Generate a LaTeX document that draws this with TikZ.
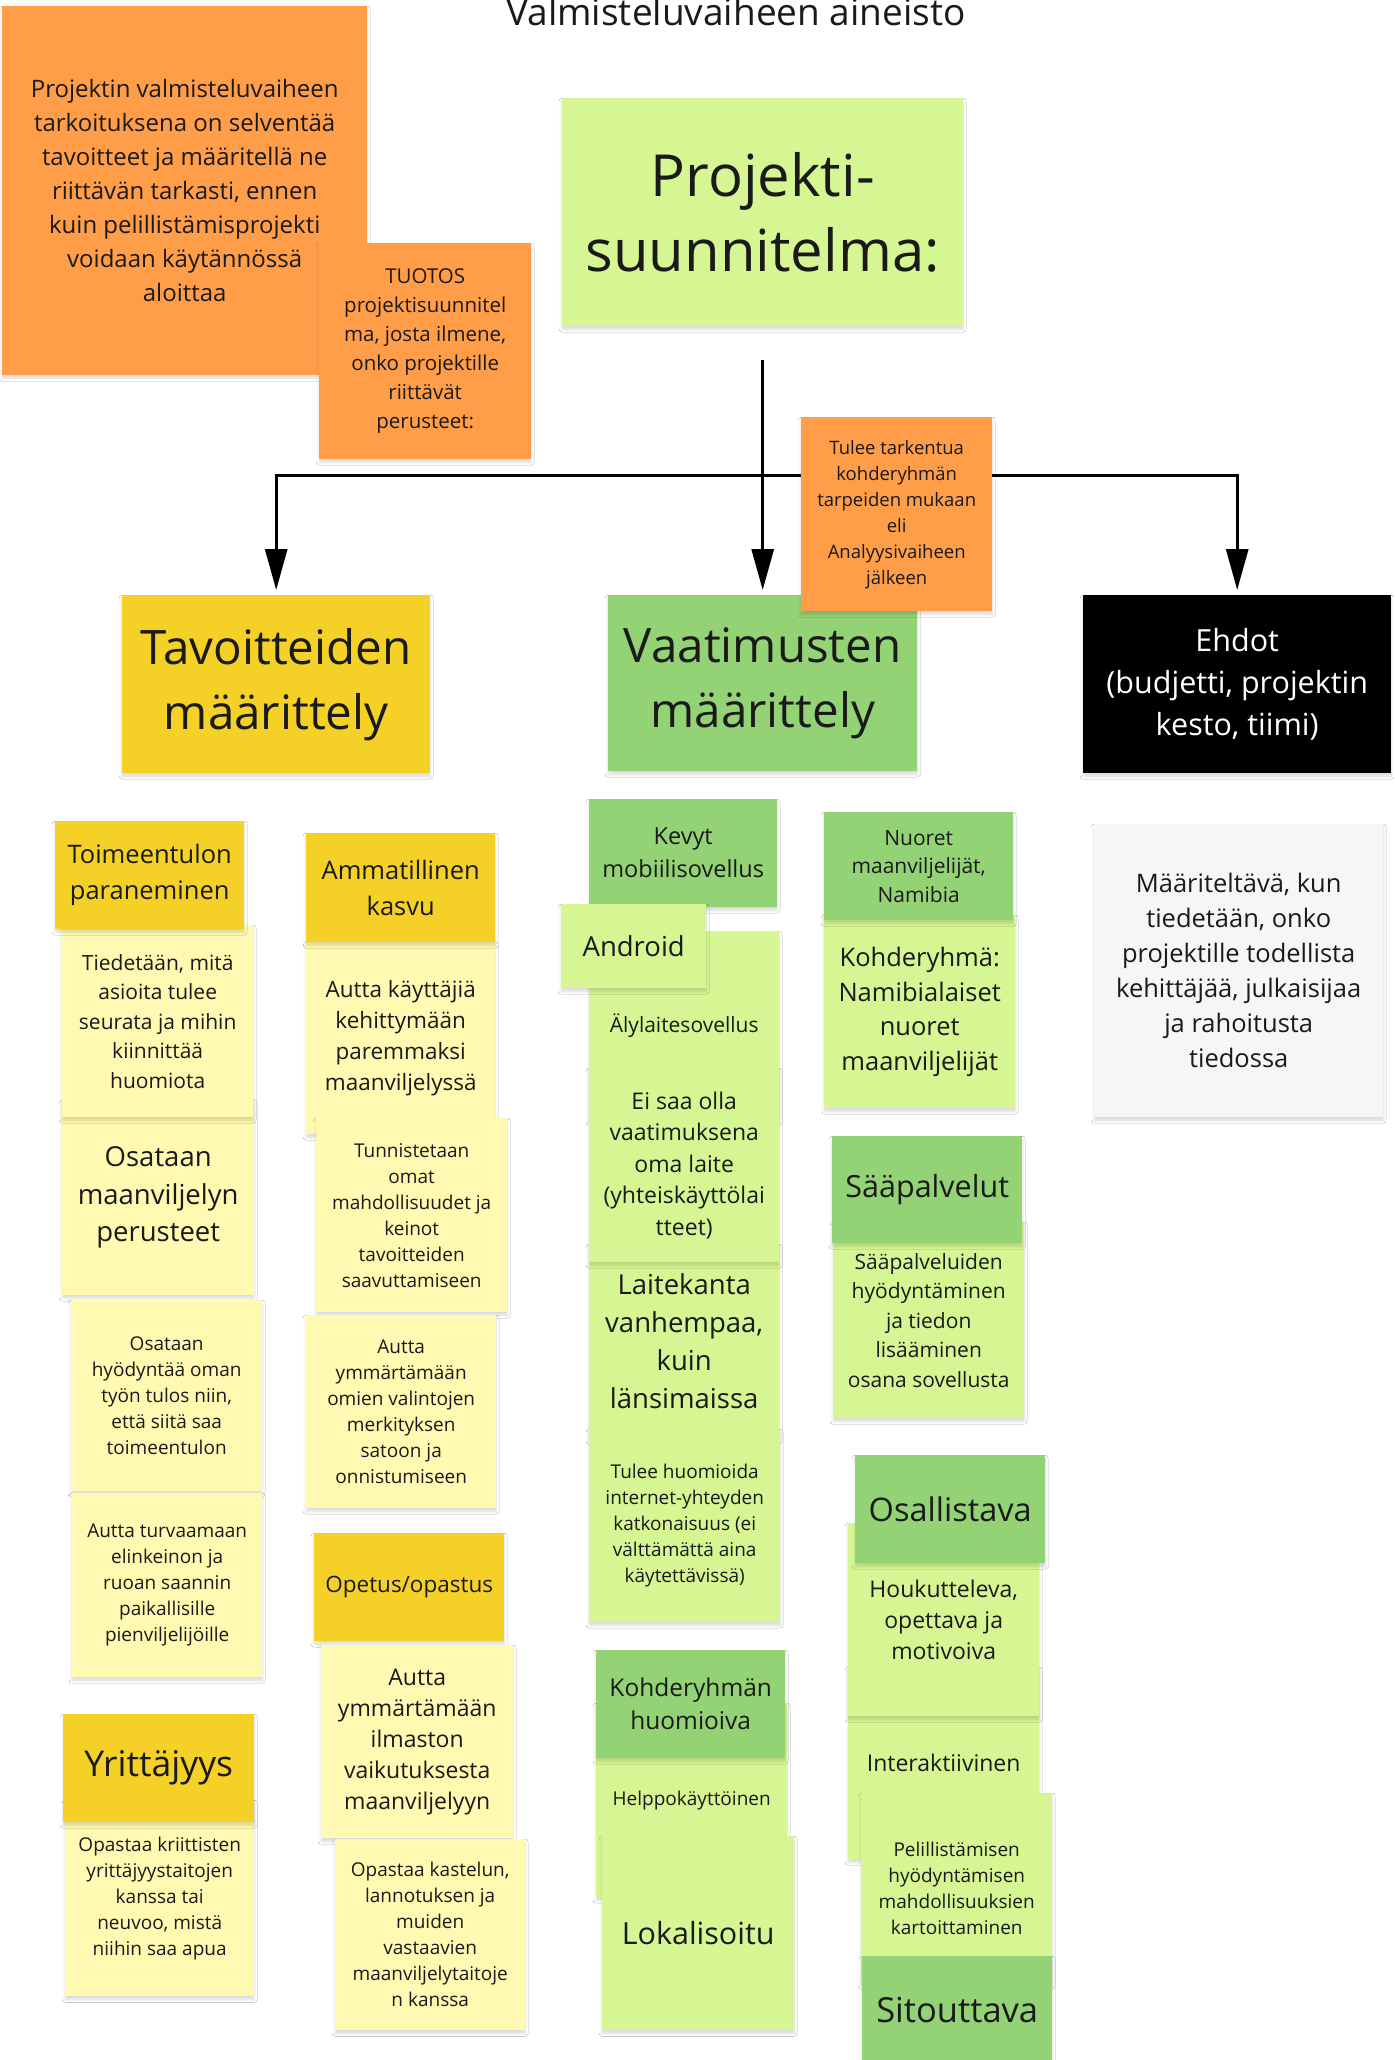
\documentclass[tikz,border=0pt]{standalone}
\usepackage{fontspec}
\setmainfont{Open Sans}
\usetikzlibrary{arrows.meta,shadows.blur,calc}

\definecolor{ink}{HTML}{1A1A1A}
\definecolor{cOrange}{HTML}{FF9D48}
\definecolor{cLGreen}{HTML}{D5F692}
\definecolor{cGreen}{HTML}{93D275}
\definecolor{cYellow}{HTML}{F5D128}
\definecolor{cLYellow}{HTML}{FFF9B1}
\definecolor{cGray}{HTML}{F5F6F8}

\begin{document}
\begin{tikzpicture}[x=1pt,y=-1pt,
  sticky/.style 2 args={anchor=north west, inner sep=0pt,
    minimum width=#1pt, minimum height=#2pt, align=center, text=ink,
    blur shadow={shadow xshift=0pt, shadow yshift=-3pt,
      shadow blur radius=3pt, shadow opacity=15}},
  fs/.style 2 args={font=\fontsize{#1}{#2}\selectfont},
  conn/.style={draw=black, line width=3pt, shorten >=5pt,
    -{Triangle[length=41pt,width=22pt]}}
]
% page
\fill[white] (0,0) rectangle (1394,2060);
\useasboundingbox (0,0) rectangle (1394,2060);

% heading
\node[anchor=base, fs={37}{44}, text=ink] (title) at (736,26) {Valmisteluvaiheen aineisto};

% purpose and outcome
\node[sticky={365}{369}, fill=cOrange, fs={24}{34}] (intro) at (2,6)
  {Projektin valmisteluvaiheen\\tarkoituksena on selventää\\tavoitteet ja määritellä ne\\riittävän tarkasti, ennen\\kuin pelillistämisprojekti\\voidaan käytännössä\\aloittaa};
\node[sticky={212}{216}, fill=cOrange, fs={20.5}{29}] (tuotos) at (319,243)
  {TUOTOS\\projektisuunnitel\\ma, josta ilmene,\\onko projektille\\riittävät\\perusteet:};

\node[sticky={401}{228}, fill=cLGreen, fs={58}{75}] (plan) at (562,98)
  {Projekti-\\suunnitelma:};

% three branches
\node[sticky={308}{178}, fill=cYellow, fs={47.5}{65}] (tav) at (122,595)
  {Tavoitteiden\\määrittely};
\node[sticky={309}{176}, fill=cGreen, fs={47.5}{65}] (vaat) at (608,595)
  {Vaatimusten\\määrittely};
\node[sticky={308}{178}, fill=black, text=white, fs={30.5}{42}] (ehdot) at (1083,595)
  {Ehdot\\(budjetti, projektin\\kesto, tiimi)};

% connectors
\coordinate (src) at ($(vaat.north)+(0,-235)$);
\coordinate (bus) at ($(vaat.north)+(0,-120)$);
\draw[conn] (src) -- (vaat.north);
\draw[conn] (bus) -| (tav.north);
\draw[conn] (bus) -| (ehdot.north);

\node[sticky={191}{194}, fill=cOrange, fs={18.5}{26}] (tarkentua) at (801,417)
  {Tulee tarkentua\\kohderyhmän\\tarpeiden mukaan\\eli\\Analyysivaiheen\\jälkeen};

% goals, first column
\node[sticky={192}{195}, fill=cLYellow, fs={27.5}{37.5}] (osmaan) at (62,1100)
  {Osataan\\maanviljelyn\\perusteet};
\node[sticky={191}{192}, fill=cLYellow, fs={21}{29.5}] (tiedet) at (62,925)
  {Tiedetään, mitä\\asioita tulee\\seurata ja mihin\\kiinnittää\\huomiota};
\node[sticky={189}{108}, fill=cYellow, fs={25.5}{36}] (toim) at (55,821)
  {Toimeentulon\\paraneminen};
\node[sticky={191}{191}, fill=cLYellow, fs={19}{26}] (oshyod) at (71,1300)
  {Osataan\\hyödyntää oman\\työn tulos niin,\\että siitä saa\\toimeentulon};
\node[sticky={190}{184}, fill=cLYellow, fs={19}{26}] (turva) at (72,1493)
  {Autta turvaamaan\\elinkeinon ja\\ruoan saannin\\paikallisille\\pienviljelijöille};
\node[sticky={189}{196}, fill=cLYellow, fs={19}{26}] (opastaa) at (65,1800)
  {Opastaa kriittisten\\yrittäjyystaitojen\\kanssa tai\\neuvoo, mistä\\niihin saa apua};
\node[sticky={191}{108}, fill=cYellow, fs={35.5}{42}] (yritt) at (63,1714)
  {Yrittäjyys};

% goals, second column
\node[sticky={189}{192}, fill=cLYellow, fs={22.5}{31}] (kayttajia) at (306,942)
  {Autta käyttäjiä\\kehittymään\\paremmaksi\\maanviljelyssä};
\node[sticky={189}{109}, fill=cYellow, fs={25.5}{36}] (ammat) at (306,833)
  {Ammatillinen\\kasvu};
\node[sticky={191}{194}, fill=cLYellow, fs={19}{26}] (tunnist) at (316,1118)
  {Tunnistetaan\\omat\\mahdollisuudet ja\\keinot\\tavoitteiden\\saavuttamiseen};
\node[sticky={190}{193}, fill=cLYellow, fs={19}{26}] (omien) at (306,1315)
  {Autta\\ymmärtämään\\omien valintojen\\merkityksen\\satoon ja\\onnistumiseen};
\node[sticky={190}{108}, fill=cYellow, fs={22.5}{31}] (opetus) at (314,1533)
  {Opetus/opastus};
\node[sticky={192}{193}, fill=cLYellow, fs={23}{31}] (ilmasto) at (321,1645)
  {Autta\\ymmärtämään\\ilmaston\\vaikutuksesta\\maanviljelyyn};
\node[sticky={190}{191}, fill=cLYellow, fs={19}{26}] (kastelu) at (335,1839)
  {Opastaa kastelun,\\lannotuksen ja\\muiden\\vastaavien\\maanviljelytaitoje\\n kanssa};

% requirements, first column
\node[sticky={190}{188}, fill=cLGreen, fs={21}{28}] (aly) at (589,931)
  {Älylaitesovellus};
\node[sticky={190}{194}, fill=cLGreen, fs={27.5}{38}] (laite) at (589,1244)
  {Laitekanta\\vanhempaa,\\kuin\\länsimaissa};
\node[sticky={190}{194}, fill=cLGreen, fs={23}{31.5}] (eisaa) at (589,1068)
  {Ei saa olla\\vaatimuksena\\oma laite\\(yhteiskäyttölai\\tteet)};
\node[sticky={191}{193}, fill=cLGreen, fs={19}{26}] (internet) at (589,1429)
  {Tulee huomioida\\internet-yhteyden\\katkonaisuus (ei\\välttämättä aina\\käytettävissä)};
\node[sticky={188}{108}, fill=cGreen, fs={23.5}{33}] (kevyt) at (589,799)
  {Kevyt\\mobiilisovellus};
\node[sticky={145}{84}, fill=cLGreen, fs={27.5}{34}] (android) at (561,904)
  {Android};
\node[sticky={191}{194}, fill=cLGreen, fs={19}{26}] (helppo) at (596,1703)
  {Helppokäyttöinen};
\node[sticky={189}{108}, fill=cGreen, fs={24.5}{33}] (kohdhuom) at (596,1650)
  {Kohderyhmän\\huomioiva};
\node[sticky={192}{194}, fill=cLGreen, fs={30.5}{38}] (lokal) at (602,1836)
  {Lokalisoitu};

% requirements, second column
\node[sticky={191}{193}, fill=cLGreen, fs={25.5}{34.5}] (kohderyhma) at (824,915)
  {Kohderyhmä:\\Namibialaiset\\nuoret\\maanviljelijät};
\node[sticky={189}{108}, fill=cGreen, fs={21}{28.5}] (nuoret) at (824,812)
  {Nuoret\\maanviljelijät,\\Namibia};
\node[sticky={191}{196}, fill=cLGreen, fs={21}{29.5}] (saatieto) at (833,1222)
  {Sääpalveluiden\\hyödyntäminen\\ja tiedon\\lisääminen\\osana sovellusta};
\node[sticky={190}{107}, fill=cGreen, fs={30.5}{38}] (saa) at (832,1136)
  {Sääpalvelut};
\node[sticky={191}{192}, fill=cLGreen, fs={23}{31}] (inter) at (848,1667)
  {Interaktiivinen};
\node[sticky={191}{193}, fill=cLGreen, fs={23}{31}] (houk) at (848,1523)
  {Houkutteleva,\\opettava ja\\motivoiva};
\node[sticky={190}{108}, fill=cGreen, fs={32.5}{40}] (osall) at (855,1455)
  {Osallistava};
\node[sticky={191}{190}, fill=cLGreen, fs={19}{26}] (pel) at (861,1793)
  {Pelillistämisen\\hyödyntämisen\\mahdollisuuksien\\kartoittaminen};
\node[sticky={190}{108}, fill=cGreen, fs={34.5}{40}] (sit) at (862,1956)
  {Sitouttava};

% conditions
\node[sticky={289}{293}, fill=cGray, fs={25.5}{35}] (maarit) at (1094,824)
  {Määriteltävä, kun\\tiedetään, onko\\projektille todellista\\kehittäjää, julkaisijaa\\ja rahoitusta\\tiedossa};

\end{tikzpicture}
\end{document}
